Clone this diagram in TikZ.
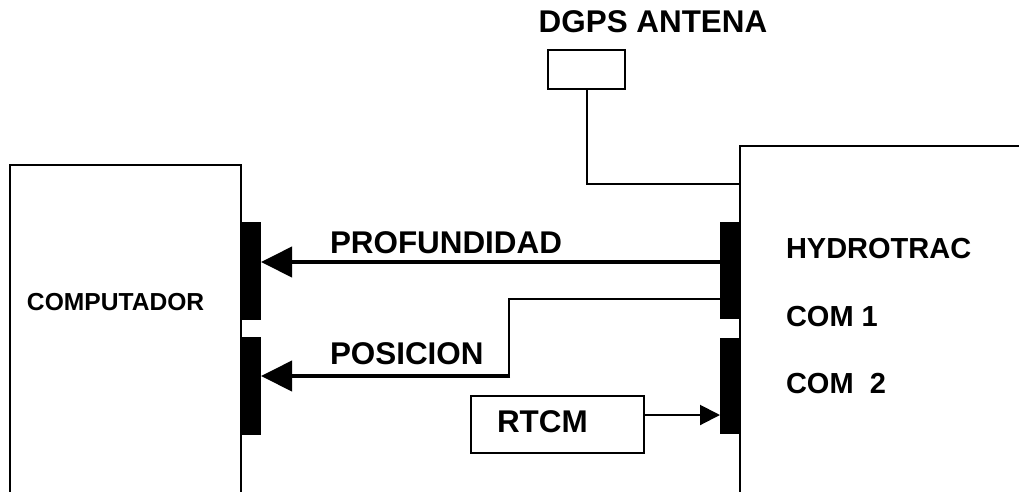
\documentclass[tikz,border=0pt]{standalone}
\usepackage{fontspec}
\setmainfont{Liberation Sans}
\usetikzlibrary{arrows.meta}
\begin{document}
\begin{tikzpicture}[x=1pt,y=-1pt,
  thin line/.style={line width=2pt, line cap=rect},
  thick line/.style={line width=4pt},
  port/.style={fill=black, draw=none, minimum width=20pt, inner sep=0pt, outer sep=0pt},
  box/.style={draw, line width=2pt, inner sep=0pt, outer sep=0pt},
  lbl/.style={inner sep=0pt, outer sep=0pt, font=\bfseries\fontsize{31.4}{36}\selectfont},
  big tip/.style={-{Triangle[length=31pt,width=30pt]}},
  small tip/.style={-{Triangle[length=20pt,width=20pt]}}]
\useasboundingbox (0,0) rectangle (1019,491);
% computer box (open at bottom)
\draw[thin line] (10,495) -- (10,165) -- (241,165) -- (241,495);
\node[lbl, anchor=base west, font=\bfseries\fontsize{24.6}{28}\selectfont] (comp) at (27,310) {COMPUTADOR};
% hydrotrac box
\draw[thin line] (1030,146) -- (740,146) -- (740,495);
\node[lbl, anchor=base west, font=\bfseries\fontsize{29}{34}\selectfont] (hyd) at (786,258) {HYDROTRAC};
\node[lbl, anchor=base west, font=\bfseries\fontsize{29}{34}\selectfont] (com1) at (786,326) {COM 1};
\node[lbl, anchor=base west, font=\bfseries\fontsize{29}{34}\selectfont] (com2) at (786,393) {COM\ \ 2};
% ports
\node[port, minimum height=98pt] (lp1) at (251,271) {};
\node[port, minimum height=98pt] (lp2) at (251,386) {};
\node[port, minimum height=97pt] (rp1) at (730,270.5) {};
\node[port, minimum height=96pt] (rp2) at (730,386) {};
% antenna
\node[lbl, anchor=base] (dgps) at (653,32) {DGPS ANTENA};
\node[box, minimum width=77pt, minimum height=39pt] (ant) at (586.5,69.5) {};
\coordinate (antcorner) at (ant.south |- 0,184);
\draw[thin line] (ant.south) -- (antcorner) -- (antcorner -| 740,0);
% profundidad
\draw[thick line, big tip] (rp1.west |- 0,262) -- (lp1.east |- 0,262);
\node[lbl, anchor=base west] (prof) at (330,253) {PROFUNDIDAD};
% posicion
\coordinate (bendtop) at (509,299);
\coordinate (bend) at (509,376);
\draw[thin line] (rp1.west |- bendtop) -- (bendtop) -- (bend);
\draw[thick line, big tip] ([xshift=1pt]bend) -- (lp2.east |- bend);
\node[lbl, anchor=base west] (pos) at (330,364) {POSICION};
% RTCM
\node[box, minimum width=173pt, minimum height=57pt] (rtcm) at (557.5,424.5) {};
\node[lbl, anchor=base west] (rtcmtxt) at (497,432) {RTCM};
\draw[line width=2pt, small tip] (rtcm.east |- 0,415) -- (rp2.west |- 0,415);
\end{tikzpicture}
\end{document}
